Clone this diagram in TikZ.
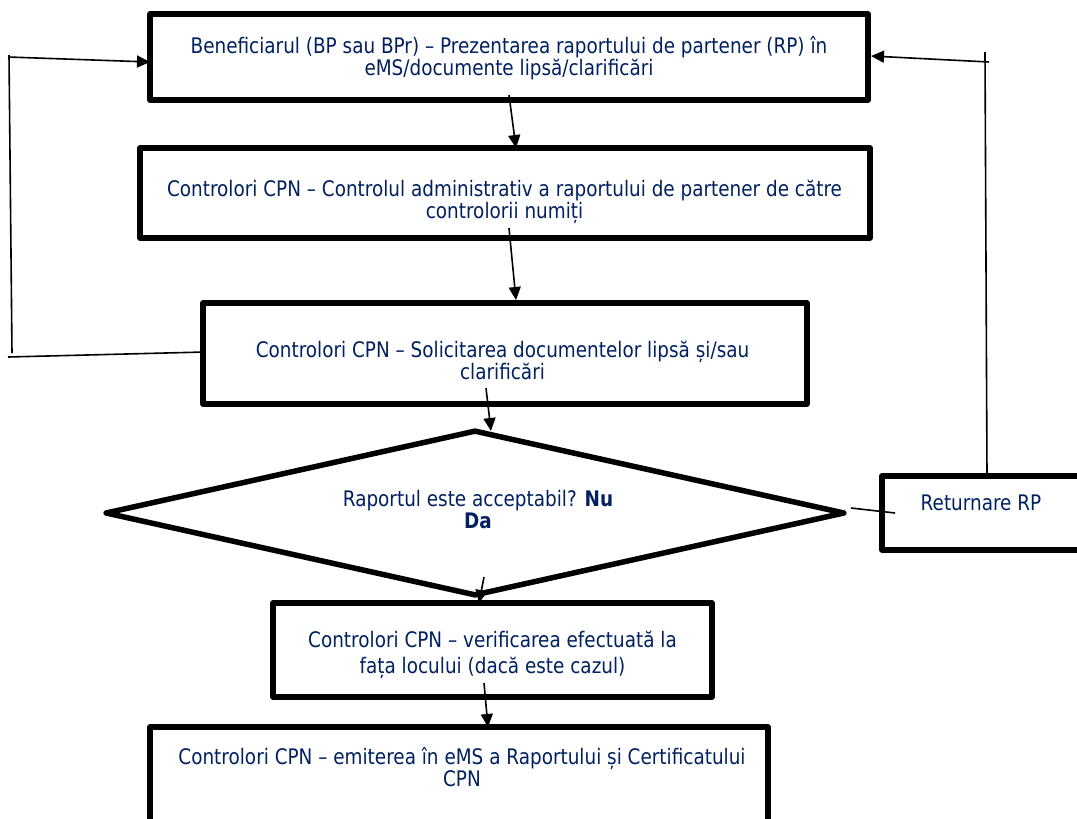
\documentclass[tikz,border=0pt]{standalone}
\usepackage{fontspec}
\setmainfont{DejaVu Sans}[FakeStretch=0.86]
\usetikzlibrary{arrows.meta,shapes.geometric,calc}
\definecolor{navy}{RGB}{0,32,96}
\begin{document}
\begin{tikzpicture}[x=1pt,y=-1pt,
  box/.style={draw=black,line width=5.5pt,rectangle,inner sep=0pt,line join=round},
  dbox/.style={draw=black,line width=5.5pt,diamond,inner sep=0pt,line join=round},
  txt/.style={text=navy,font=\fontsize{21.4}{22}\selectfont,align=center,inner sep=0pt,anchor=base},
  arr/.style={line width=1.6pt,-{Triangle[length=13pt,width=12pt]}},
  ln/.style={line width=1.6pt}]
\useasboundingbox (0,0) rectangle (1077,819);
% boxes
\node[box,minimum width=718pt,minimum height=86pt] (b1) at (509,57) {};
\node[box,minimum width=730pt,minimum height=90pt] (b2) at (505,193) {};
\node[box,minimum width=604pt,minimum height=101pt] (b3) at (505,353.5) {};
\node[dbox,minimum width=740pt,minimum height=166pt] (dec) at (475,513) {};
\node[box,minimum width=218pt,minimum height=74pt] (ret) at (991,513) {};
\node[box,minimum width=439pt,minimum height=94pt] (b4) at (492.5,650) {};
\node[box,minimum width=618pt,minimum height=113pt] (b5) at (459,783.5) {};
% texts (base anchor = baseline of last line)
\node[txt] (t1) at (509,75) {Beneficiarul (BP sau BPr) – Prezentarea raportului de partener (RP) în\\eMS/documente lipsă/clarificări};
\node[txt] (t2) at (504.5,218) {Controlori CPN – Controlul administrativ a raportului de partener de către\\controlorii numiți};
\node[txt] (t3) at (502.5,379) {Controlori CPN – Solicitarea documentelor lipsă și/sau\\clarificări};
\node[txt] (td) at (478,528) {Raportul este acceptabil? \textbf{Nu}\\\textbf{Da}};
\node[txt] (tr) at (981,510) {Returnare RP};
\node[txt,font=\fontsize{21.4}{26}\selectfont] (t4) at (492.5,673) {Controlori CPN – verificarea efectuată la\\fața locului (dacă este cazul)};
\node[txt] (t5) at (462,786) {Controlori CPN – emiterea în eMS a Raportului și Certificatului\\CPN};
% connector points
\coordinate (a1s) at (509,95);
\coordinate (a1e) at (516,148);
\coordinate (a2s) at (509,228);
\coordinate (a2e) at (516,300);
\coordinate (a3s) at (486,388);
\coordinate (a3e) at (491,431);
\coordinate (a4s) at (484,577);
\coordinate (a4e) at (479,603);
\coordinate (a5s) at (484,683);
\coordinate (a5e) at (488,727);
\coordinate (l1) at (8,357);
\coordinate (l2) at (12,353);
\coordinate (l3) at (9,55);
\coordinate (l4) at (8,57);
\coordinate (l5) at (150,62);
\coordinate (r1) at (987,476);
\coordinate (r2) at (985,52);
\coordinate (r3) at (989,62);
\coordinate (r4) at (871,56);
\coordinate (d1) at (851,508);
\coordinate (d2) at (895,513);
\coordinate (b3w) at (205,352);
% connectors
\draw[arr] (a1s) -- (a1e);
\draw[arr] (a2s) -- (a2e);
\draw[arr] (a3s) -- (a3e);
\draw[arr] (a4s) -- (a4e);
\draw[arr] (a5s) -- (a5e);
\draw[ln] (b3w) -- (l1);
\draw[ln] (l2) -- (l3);
\draw[arr] (l4) -- (l5);
\draw[ln] (r1) -- (r2);
\draw[arr] (r3) -- (r4);
\draw[ln] (d1) -- (d2);
\end{tikzpicture}
\end{document}
